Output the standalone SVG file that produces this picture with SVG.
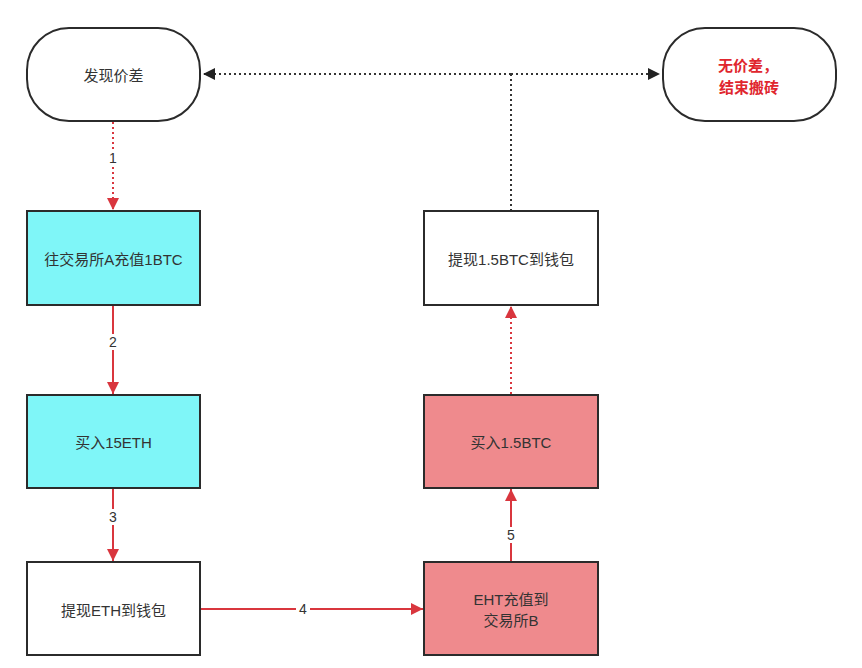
<svg xmlns="http://www.w3.org/2000/svg" width="862" height="668" viewBox="0 0 862 668">
<defs>
<style>
.node{stroke:#2b2b2b;stroke-width:2}
.white{fill:#ffffff}
.cyan{fill:#7ff6f8}
.pink{fill:#ef8a8d}
.t{font-family:"Liberation Sans","Noto Sans CJK SC",sans-serif;font-size:15px;fill:#333333;text-anchor:middle;dominant-baseline:central}
.red{fill:#e0262e;font-weight:bold}
.lbl{font-family:"Liberation Sans","Noto Sans CJK SC",sans-serif;font-size:14px;fill:#333333;text-anchor:middle;dominant-baseline:central}
.rs{stroke:#d9363e;stroke-width:2;fill:none}
.rd{stroke:#d9363e;stroke-width:2;fill:none;stroke-dasharray:2 3}
.bd{stroke:#333333;stroke-width:2;fill:none;stroke-dasharray:2 3}
</style>
<marker id="ra" viewBox="0 0 10 10" refX="10" refY="5" markerWidth="6" markerHeight="6" orient="auto" markerUnits="strokeWidth">
<path d="M0,0 L10,5 L0,10 z" fill="#d9363e"/>
</marker>
<marker id="ba" viewBox="0 0 10 10" refX="10" refY="5" markerWidth="6" markerHeight="6" orient="auto" markerUnits="strokeWidth">
<path d="M0,0 L10,5 L0,10 z" fill="#222222"/>
</marker>
</defs>
<rect width="862" height="668" fill="#ffffff"/>
<g id="connectors">
<line class="bd" x1="511" y1="74" x2="203" y2="74" marker-end="url(#ba)"/>
<line class="bd" x1="511" y1="74" x2="660" y2="74" marker-end="url(#ba)"/>
<line class="bd" x1="511" y1="211" x2="511" y2="74"/>
<line class="rd" x1="113" y1="122" x2="113" y2="210" marker-end="url(#ra)"/>
<rect x="105" y="150" width="16" height="16" fill="#ffffff"/>
<text class="lbl" x="113" y="158">1</text>
<line class="rs" x1="113" y1="306" x2="113" y2="394" marker-end="url(#ra)"/>
<rect x="105" y="334" width="16" height="16" fill="#ffffff"/>
<text class="lbl" x="113" y="342">2</text>
<line class="rs" x1="113" y1="489" x2="113" y2="561" marker-end="url(#ra)"/>
<rect x="105" y="509" width="16" height="16" fill="#ffffff"/>
<text class="lbl" x="113" y="517">3</text>
<line class="rs" x1="201" y1="609" x2="423" y2="609" marker-end="url(#ra)"/>
<rect x="296" y="601" width="14" height="16" fill="#ffffff"/>
<text class="lbl" x="303" y="609">4</text>
<line class="rs" x1="511" y1="561" x2="511" y2="489" marker-end="url(#ra)"/>
<rect x="503" y="527" width="16" height="16" fill="#ffffff"/>
<text class="lbl" x="511" y="535">5</text>
<line class="rd" x1="511" y1="394" x2="511" y2="306" marker-end="url(#ra)"/>
</g>
<g id="n-find">
<rect class="node white" x="27" y="28" width="173" height="93" rx="42" ry="42"/>
<text class="t" x="113.5" y="75">发现价差</text>
</g>
<g id="n-end">
<rect class="node white" x="663" y="28" width="173" height="93" rx="42" ry="42"/>
<text class="t red" x="748" y="65">无价差，</text>
<text class="t red" x="749" y="87">结束搬砖</text>
</g>
<g id="n-deposit-a">
<rect class="node cyan" x="27" y="211" width="173" height="94"/>
<text class="t" x="113.5" y="259">往交易所A充值1BTC</text>
</g>
<g id="n-buy-eth">
<rect class="node cyan" x="27" y="395" width="173" height="93"/>
<text class="t" x="113.5" y="442">买入15ETH</text>
</g>
<g id="n-withdraw-eth">
<rect class="node white" x="27" y="562" width="173" height="93"/>
<text class="t" x="113.5" y="610">提现ETH到钱包</text>
</g>
<g id="n-deposit-b">
<rect class="node pink" x="424" y="562" width="174" height="93"/>
<text class="t" x="511" y="599">EHT充值到</text>
<text class="t" x="511" y="620">交易所B</text>
</g>
<g id="n-buy-btc">
<rect class="node pink" x="424" y="395" width="174" height="93"/>
<text class="t" x="511" y="442">买入1.5BTC</text>
</g>
<g id="n-withdraw-btc">
<rect class="node white" x="424" y="211" width="174" height="94"/>
<text class="t" x="511" y="259">提现1.5BTC到钱包</text>
</g>
</svg>
